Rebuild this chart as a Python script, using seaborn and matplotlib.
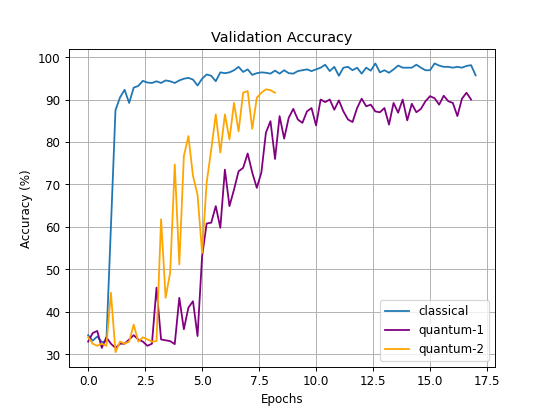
import numpy as np
import pandas as pd
import matplotlib
matplotlib.use("Agg")
import matplotlib.pyplot as plt
import seaborn as sns

# validation accuracy (%), one value every 0.2 epoch
step = 0.2
classical = [34.5, 33.2, 34.2, 32.9, 33.0, 60.0, 87.5, 90.5, 92.3, 89.2,
             92.8, 93.2, 94.4, 94.0, 93.9, 94.3, 93.9, 94.5, 94.3, 93.9,
             94.5, 94.9, 95.1, 94.7, 93.3, 94.9, 95.9, 95.6, 94.3, 96.4,
             96.2, 96.4, 96.9, 97.7, 96.5, 97.1, 95.8, 96.2, 96.4, 96.3,
             96.1, 96.8, 96.1, 96.9, 96.2, 96.1, 96.7, 96.9, 97.1, 96.7,
             97.1, 97.5, 98.2, 96.7, 97.7, 95.6, 97.5, 97.7, 96.9, 97.5,
             96.1, 97.5, 96.8, 98.5, 96.4, 96.9, 96.3, 97.1, 98.0, 97.5,
             97.5, 97.5, 98.2, 97.5, 96.9, 96.9, 98.5, 98.0, 97.7, 97.7,
             97.5, 97.7, 97.5, 97.9, 98.1, 95.7]
quantum_1 = [33.0, 35.0, 35.5, 31.5, 34.0, 32.5, 31.5, 32.5, 32.5, 33.5,
             34.5, 33.5, 33.0, 32.0, 32.5, 45.7, 33.5, 33.3, 33.1, 32.4,
             43.3, 35.9, 41.0, 42.5, 34.3, 53.1, 60.8, 61.0, 64.9, 59.8,
             73.5, 64.9, 68.8, 73.1, 73.9, 77.3, 72.8, 69.2, 72.8, 82.2,
             84.9, 76.0, 86.1, 80.8, 85.7, 87.8, 85.3, 84.5, 87.2, 88.0,
             83.9, 90.0, 89.4, 90.0, 87.6, 89.8, 87.2, 85.3, 84.7, 88.0,
             90.2, 88.4, 88.8, 87.2, 87.0, 88.0, 84.1, 89.2, 86.9, 90.0,
             85.1, 89.0, 87.0, 87.8, 89.6, 90.8, 90.3, 88.8, 90.9, 89.6,
             89.2, 86.1, 90.2, 91.6, 90.0]
quantum_2 = [34.0, 32.5, 32.0, 32.5, 32.0, 44.5, 30.5, 33.0, 32.5, 33.0,
             37.0, 33.0, 34.0, 33.5, 33.0, 33.1, 61.8, 43.3, 49.3, 74.7,
             51.2, 76.7, 81.4, 72.0, 67.6, 53.9, 70.4, 78.2, 86.5, 77.5,
             86.5, 80.6, 89.2, 82.5, 91.6, 92.0, 83.1, 90.4, 91.6, 92.4,
             92.2, 91.6]

series = {"classical": classical, "quantum-1": quantum_1, "quantum-2": quantum_2}
colors = {"classical": "#1f77b4", "quantum-1": "purple", "quantum-2": "orange"}

frames = []
for name, vals in series.items():
    frames.append(pd.DataFrame({"Epochs": np.arange(len(vals)) * step,
                                "acc": vals, "model": name}))
df = pd.concat(frames, ignore_index=True)

# default 6.4x4.8 figure, scaled down to 550 px wide
fig, ax = plt.subplots(figsize=(6.4, 4.8), dpi=550 / 6.4)
sns.lineplot(data=df, x="Epochs", y="acc", hue="model", palette=colors,
             linewidth=1.5, ax=ax)
ax.set_title("Validation Accuracy")
ax.set_xlabel("Epochs")
ax.set_ylabel("Accuracy (%)")
ax.grid(True)
ax.legend(title=None, loc="lower right")
fig.savefig("out.png", dpi=550 / 6.4)
